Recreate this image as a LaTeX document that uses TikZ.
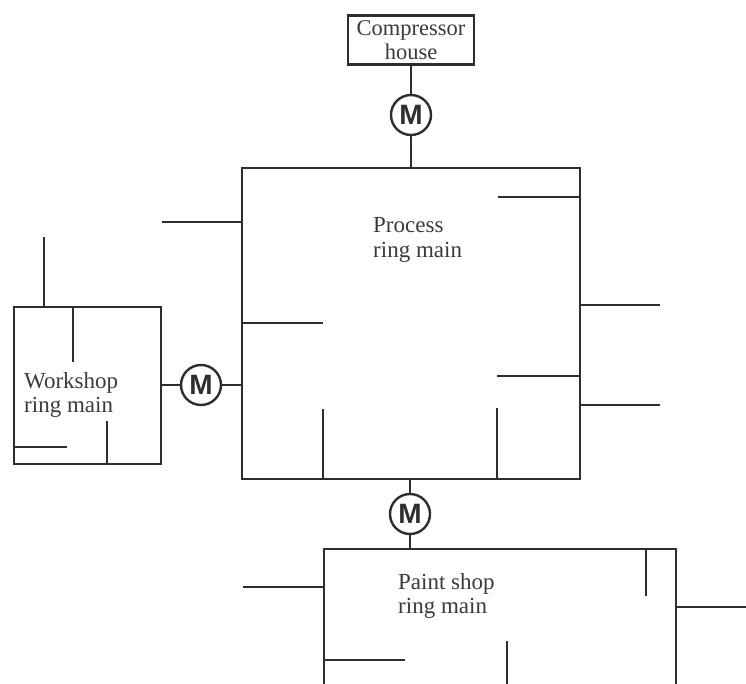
\documentclass[tikz,border=0pt]{standalone}
\usepackage{fontspec}
\setmainfont{Liberation Serif}
\newfontfamily\motorfont{Liberation Sans}
\usetikzlibrary{positioning,calc}
\definecolor{cPipe}{HTML}{2E2E2E}
\definecolor{cInk}{HTML}{3A3A3A}
\tikzset{
  ringbox/.style={draw=cPipe,line width=2.4pt,rectangle,outer sep=0pt,inner sep=0pt},
  housebox/.style={ringbox,minimum width=126pt,minimum height=49pt,align=center,text=cInk,font=\fontsize{22.5}{24.5}\selectfont},
  motor/.style={draw=cPipe,circle,fill=white,line width=2.4pt,minimum size=40pt,inner sep=0pt,outer sep=0pt,text=cPipe,font=\fontsize{28}{28}\motorfont\bfseries\selectfont},
  pipe/.style={draw=cPipe,line width=2.4pt},
  lbl/.style={align=left,text=cInk,inner sep=0pt,font=\fontsize{23}{24.5}\selectfont},
}
\begin{document}
\begin{tikzpicture}[x=1pt,y=-1pt]
  \useasboundingbox (0,0) rectangle (746,684);
  \clip (0,0) rectangle (746,684);
  % boxes
  \node[housebox] (house) at (411,40) {Compressor\\house};
  \node[ringbox,minimum width=338pt,minimum height=311pt] (process) at (411,323.5) {};
  \node[ringbox,minimum width=147pt,minimum height=157pt] (workshop) at (87.5,385.5) {};
  \node[ringbox,minimum width=352pt,minimum height=171pt] (paint) at (500,634.5) {};
  % labels
  \node[lbl,anchor=west] (processlbl) at (373,240) {Process\\ring main};
  \node[lbl,anchor=west] (workshoplbl) at (24,395) {Workshop\\ring main};
  \node[lbl,anchor=west] (paintlbl) at (398,596) {Paint shop\\ring main};
  % valves between the mains
  \node[motor] (mtop) at (411,115) {M};
  \node[motor] (mleft) at (201,385) {M};
  \node[motor] (mbot) at (410,514) {M};
  \draw[pipe] (house) -- (mtop) -- (mtop |- process.north);
  \draw[pipe] (workshop.east |- mleft) -- (mleft) -- (mleft -| process.west);
  \draw[pipe] (mbot |- process.south) -- (mbot) -- (mbot |- paint.north);
  % branches off the process main
  \foreach \n/\x/\y in {a/162/222,b/323/323,c/498/197,d/660/305,e/497/376,f/660/405}{\coordinate (\n) at (\x,\y);}
  \draw[pipe] (a) -- (a -| process.west);
  \draw[pipe] (b) -- (b -| process.west);
  \draw[pipe] (c) -- (c -| process.east);
  \draw[pipe] (d) -- (d -| process.east);
  \draw[pipe] (e) -- (e -| process.east);
  \draw[pipe] (f) -- (f -| process.east);
  \foreach \n/\x/\y in {g/323/409,h/497/408}{\coordinate (\n) at (\x,\y);\draw[pipe] (\n) -- (\n |- process.south);}
  % branches off the workshop main
  \coordinate (w1) at (44,237);
  \coordinate (w2) at (73,362);
  \coordinate (w3) at (107,421);
  \coordinate (w4) at (67,447);
  \draw[pipe] (w1) -- (w1 |- workshop.north);
  \draw[pipe] (w2) -- (w2 |- workshop.north);
  \draw[pipe] (w3) -- (w3 |- workshop.south);
  \draw[pipe] (w4) -- (w4 -| workshop.west);
  % branches off the paint shop main
  \coordinate (s1) at (243,587);
  \coordinate (s2) at (646,596);
  \coordinate (s3) at (746,607);
  \coordinate (s4) at (405,660);
  \coordinate (s5) at (507,641);
  \draw[pipe] (s1) -- (s1 -| paint.west);
  \draw[pipe] (s2) -- (s2 |- paint.north);
  \draw[pipe] (s3) -- (s3 -| paint.east);
  \draw[pipe] (s4) -- (s4 -| paint.west);
  \draw[pipe] (s5) -- (s5 |- paint.south);
\end{tikzpicture}
\end{document}
